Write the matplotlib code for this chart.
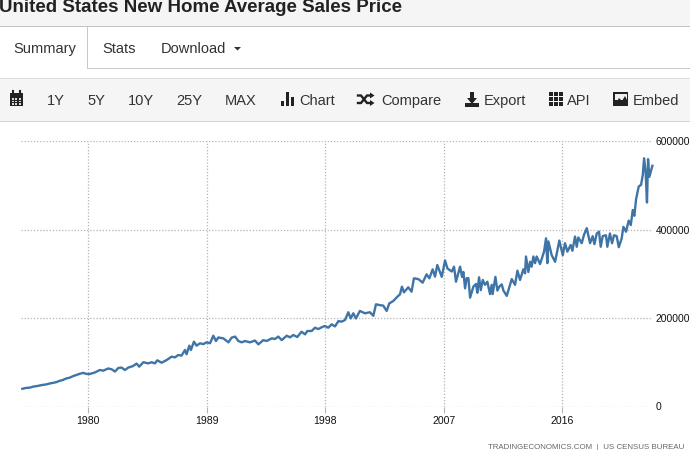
import matplotlib
matplotlib.use('Agg')
import matplotlib.pyplot as plt
from matplotlib.patches import Rectangle, Polygon

plt.rcParams['font.family'] = ['Liberation Sans', 'DejaVu Sans']

# average sales price, thousands of dollars
years = [1975.02, 1975.3, 1975.57, 1975.85, 1976.1, 1976.35, 1976.6, 1976.85, 1977.1, 1977.35, 1977.6, 1977.85,
         1978.1, 1978.36, 1978.6, 1978.9, 1979.1, 1979.39, 1979.64, 1979.9, 1980.15, 1980.53, 1980.9, 1981.16,
         1981.54, 1981.8, 1982.05, 1982.3, 1982.55, 1982.8, 1983.06, 1983.39, 1983.69, 1983.89, 1984.2, 1984.57,
         1984.83, 1985.08, 1985.26, 1985.59, 1985.97, 1986.35, 1986.6, 1986.85, 1987.1, 1987.36, 1987.48, 1987.69,
         1987.81, 1988.04, 1988.24, 1988.5, 1988.75, 1989.0, 1989.26, 1989.51, 1989.71, 1989.89, 1990.27, 1990.65,
         1990.9, 1991.16, 1991.41, 1991.66, 1991.91, 1992.29, 1992.67, 1992.93, 1993.3, 1993.56, 1993.94, 1994.19,
         1994.44, 1994.7, 1995.08, 1995.33, 1995.58, 1995.88, 1996.2, 1996.47, 1996.64, 1996.97, 1997.22, 1997.48,
         1997.73, 1997.98, 1998.23, 1998.49, 1998.74, 1999.0, 1999.24, 1999.5, 1999.75, 1999.93, 2000.13, 2000.33,
         2000.63, 2001.01, 2001.39, 2001.65, 2001.85, 2002.15, 2002.4, 2002.66, 2002.86, 2003.16, 2003.47, 2003.67,
         2003.82, 2003.97, 2004.3, 2004.55, 2004.73, 2005.06, 2005.39, 2005.69, 2005.9, 2006.15, 2006.33, 2006.5,
         2006.84, 2007.09, 2007.27, 2007.6, 2007.77, 2007.92, 2008.23,
         2008.38, 2008.48, 2008.61, 2008.73, 2008.86, 2008.99, 2009.24, 2009.44, 2009.54, 2009.67, 2009.8, 2009.95,
         2010.12, 2010.3, 2010.5, 2010.63, 2010.7, 2010.91, 2011.06, 2011.21, 2011.39, 2011.52, 2011.77, 2012.15,
         2012.4, 2012.58, 2012.78, 2013.03, 2013.16, 2013.23, 2013.41, 2013.54, 2013.66, 2013.79, 2013.92, 2014.04,
         2014.3, 2014.6, 2014.75, 2014.85, 2014.93, 2015.18, 2015.44, 2015.76, 2016.02, 2016.19, 2016.37, 2016.62,
         2016.75, 2016.95, 2017.08, 2017.2, 2017.46, 2017.63, 2017.84, 2018.09, 2018.29, 2018.42, 2018.6, 2018.77,
         2018.9, 2019.05, 2019.3, 2019.4, 2019.6, 2019.76, 2019.91, 2020.11, 2020.27, 2020.49, 2020.62, 2020.82,
         2021.02, 2021.18, 2021.33, 2021.45, 2021.58, 2021.78, 2021.96, 2022.09, 2022.19, 2022.31, 2022.41, 2022.49,
         2022.59, 2022.82]
prices = [40, 42, 42.5, 45, 46, 47.5, 49, 50, 52, 53.5, 55, 58,
          60, 63.5, 65, 69, 71, 74, 76, 73.5, 73.5, 77, 82.5, 81,
          86, 84, 79, 87, 88, 82.5, 88, 91, 97, 90, 100, 97.5,
          100, 97.5, 104.4, 99, 105, 112.6, 111, 116.4, 115, 127.7, 118, 137.5,
          127.7, 146.5, 137.5, 142.8, 141, 145, 143, 160, 148, 156, 154, 145,
          155.6, 158, 148, 145, 148, 145, 149, 140.5, 150, 148, 154, 152.6,
          158, 150, 160, 156.3, 161.6, 157, 169, 163, 170.6, 170.6, 178, 175,
          179, 182, 178, 185.7, 181, 193, 191.7, 195.5, 213, 199, 210.6, 199,
          216, 210.6, 213, 205, 231, 229, 228, 216, 233, 238.4, 248, 253.5,
          270.8, 258, 269.3, 259.5, 289.7, 288, 279.9, 298.7, 289.7, 310, 293.4, 319.8,
          293, 330, 312, 305, 316, 282, 316,
          293, 304, 267, 290, 290, 246, 271, 277, 257, 292, 263, 286,
          275, 282, 254, 275, 254, 293, 262, 271, 276, 262, 250, 288,
          275, 307, 286, 310, 301, 339, 304, 327, 316, 339, 324, 339,
          322, 350, 380, 324, 373, 342, 327, 375, 342, 369, 350, 365,
          352, 384, 361, 382, 369, 388, 403, 369, 385, 367, 391, 395,
          361, 385, 387, 361, 391, 369, 387, 385, 360, 380, 406, 395,
          420, 410, 444, 431, 468, 497, 501, 523, 561, 527, 461, 559,
          519, 544]

xtick_years = [1980, 1989, 1998, 2007, 2016]
ytick_values = [0, 200000, 400000, 600000]
nav_items = [('Summary', 13), ('Stats', 102), ('Download', 161)]
range_items = [('1Y', 47), ('5Y', 87), ('10Y', 128), ('25Y', 176), ('MAX', 225)]
tool_items = [('Chart', 299), ('Compare', 381), ('Export', 484), ('API', 567), ('Embed', 633)]

fig = plt.figure(figsize=(6.9, 4.5), dpi=100, facecolor='white')

# page furniture, drawn in pixel coordinates
ui = fig.add_axes([0, 0, 1, 1])
ui.set_xlim(0, 690)
ui.set_ylim(450, 0)
ui.axis('off')

DARK = '#222222'
ui.add_patch(Rectangle((0, 0), 690, 26, color='#f5f5f5', lw=0))
ui.add_patch(Rectangle((0, 78), 690, 43, color='#f5f5f5', lw=0))
ui.add_patch(Rectangle((0, 26), 690, 1, color='#c4c4c4', lw=0))
ui.add_patch(Rectangle((88, 68), 602, 1, color='#c8c8c8', lw=0))
ui.add_patch(Rectangle((87, 27), 1, 42, color='#c8c8c8', lw=0))
ui.add_patch(Rectangle((0, 78), 690, 1, color='#dddddd', lw=0))
ui.add_patch(Rectangle((0, 121), 690, 1, color='#d4d4d4', lw=0))

ui.text(-1, 12, 'United States New Home Average Sales Price', fontsize=13.5, fontweight='bold',
        color='#222222', va='baseline')

for label, x in nav_items:
    ui.text(x, 53, label, fontsize=10.5, color='#333333', va='baseline')
ui.add_patch(Polygon([(234, 47), (241, 47), (237.5, 50.5)], color='#333333', lw=0))

for label, x in range_items + tool_items:
    ui.text(x, 105, label, fontsize=10.5, color='#333333', va='baseline')

# calendar
ui.add_patch(Rectangle((10, 93), 13, 13, color=DARK, lw=0))
ui.plot([13, 13], [91, 94], color=DARK, lw=1.5)
ui.plot([20, 20], [91, 94], color=DARK, lw=1.5)
for gx in [11.5, 15, 18.5]:
    for gy in [98, 100.5, 103]:
        ui.add_patch(Rectangle((gx, gy), 2.4, 1.5, color='#d8d8d8', lw=0))

# bars
ui.add_patch(Rectangle((281, 101), 3, 5, color=DARK, lw=0))
ui.add_patch(Rectangle((286, 92), 3, 14, color=DARK, lw=0))
ui.add_patch(Rectangle((291, 97), 3, 9, color=DARK, lw=0))

# shuffle arrows
ui.plot([358, 361, 367, 371], [95.5, 95.5, 103, 103], color=DARK, lw=1.7)
ui.plot([358, 361, 367, 371], [103, 103, 95.5, 95.5], color=DARK, lw=1.7)
ui.add_patch(Polygon([(370, 92.5), (374.5, 95.5), (370, 98.5)], color=DARK, lw=0))
ui.add_patch(Polygon([(370, 100), (374.5, 103), (370, 106)], color=DARK, lw=0))

# download
ui.add_patch(Rectangle((470, 92), 4, 7, color=DARK, lw=0))
ui.add_patch(Polygon([(467, 98), (477, 98), (472, 104)], color=DARK, lw=0))
ui.add_patch(Rectangle((465, 103), 14, 3.5, color=DARK, lw=0))

# grid
for gx in [549, 554, 559]:
    for gy in [92, 97, 102]:
        ui.add_patch(Rectangle((gx, gy), 3.6, 3.6, color=DARK, lw=0))

# picture
ui.add_patch(Rectangle((613, 92), 15, 14, color=DARK, lw=0))
ui.add_patch(Rectangle((614.5, 94), 12, 6, color='#f0f0f0', lw=0))
ui.add_patch(Polygon([(615, 105), (619, 98), (622, 101), (625, 96), (627, 100), (627, 105)], color=DARK, lw=0))

ui.text(488, 448.8, 'TRADINGECONOMICS.COM  |  US CENSUS BUREAU', fontsize=5.7, color='#666666', va='baseline')

# price chart
ax = fig.add_axes([21 / 690, 43.5 / 450, 631 / 690, 265.5 / 450])
ax.patch.set_alpha(0)
ax.plot(years, [p * 1000 for p in prices], color='#3f74a6', lw=1.7, solid_joinstyle='round', clip_on=False)
ax.set_xlim(1974.92, 2022.79)
ax.set_ylim(0, 600000)
for s in ax.spines.values():
    s.set_visible(False)
ax.set_xticks(xtick_years)
ax.set_yticks(ytick_values)
ax.yaxis.tick_right()
ax.grid(True, color='#b4b4b4', linestyle=(0, (1, 1.5)), lw=0.9)
ax.set_axisbelow(True)
ax.tick_params(axis='x', length=4, color='#b4b4b4', width=0.8, pad=3, labelsize=7.6, labelcolor='#111111')
ax.tick_params(axis='y', length=0, pad=2.4, labelsize=7.4, labelcolor='#111111')

fig.savefig('out.png', dpi=100)
